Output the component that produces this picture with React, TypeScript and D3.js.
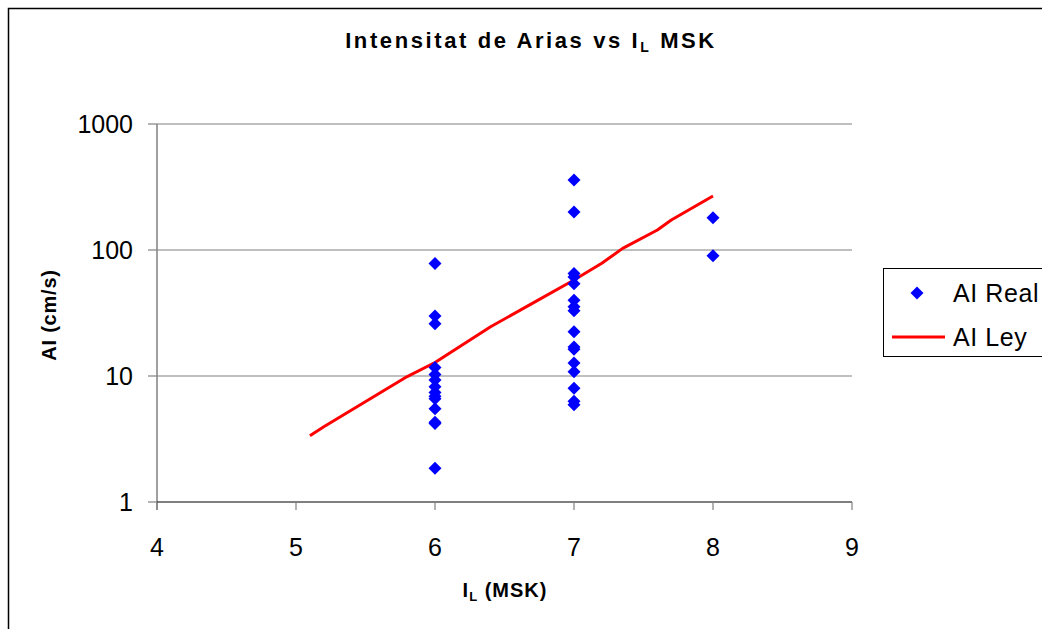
import * as d3 from "d3";

const realIL = [
  6, 6, 6, 6, 6, 6, 6, 6, 6, 6, 6, 6, 6, 6,
  7, 7, 7, 7, 7, 7, 7, 7, 7, 7, 7, 7, 7, 7, 7, 7,
  8, 8,
];
const realAI = [
  78, 30, 26, 11.7, 10.3, 9.3, 8.2, 7.4, 6.9, 6.6, 5.5, 4.3, 4.2, 1.85,
  360, 200, 65, 61, 54, 40, 35.5, 33, 22.5, 17, 16.3, 12.7, 10.8, 8, 6.3, 5.9,
  180, 90,
];

const leyIL = [5.1, 5.2, 5.8, 6.0, 6.4, 6.7, 7.0, 7.2, 7.35, 7.6, 7.7, 8.0];
const leyAI = [3.35, 3.95, 9.9, 12.8, 24.6, 37.7, 57.8, 78.4, 103, 144, 173, 268];

const xTicks = [4, 5, 6, 7, 8, 9];
const yTicks = [1, 10, 100, 1000];

const W = 1042;
const H = 629;
const FONT = "'Liberation Sans', Arial, sans-serif";

export default function App() {
  const x = d3.scaleLinear().domain([4, 9]).range([157, 852]);
  const y = d3.scaleLog().domain([1, 1000]).range([502, 124]);

  const line = d3
    .line<number>()
    .x((d) => x(d))
    .y((_, i) => y(leyAI[i]));

  const diamond = (cx: number, cy: number, r = 6.5) =>
    `M${cx},${cy - r}L${cx + r},${cy}L${cx},${cy + r}L${cx - r},${cy}Z`;

  return (
    <svg
      width={W}
      height={H}
      style={{ position: "absolute", left: 0, top: 0, background: "#fff" }}
      fontFamily={FONT}
    >
      {/* chart area border, runs off the right and bottom edges */}
      <rect x={8.5} y={8.5} width={W + 20} height={H + 20} fill="#fff" stroke="#000" strokeWidth={1.5} />

      {/* title */}
      <text x={531} y={48} textAnchor="middle" fontSize={22} fontWeight="bold" letterSpacing={2.6}>
        Intensitat de Arias vs I
        <tspan fontSize={14} dy={4}>L</tspan>
        <tspan dy={-4}> MSK</tspan>
      </text>

      {/* gridlines */}
      {yTicks.slice(1).map((t) => (
        <line key={t} x1={x(4)} x2={x(9)} y1={y(t)} y2={y(t)} stroke="#808080" strokeWidth={1.2} />
      ))}

      {/* y axis */}
      <line x1={x(4)} x2={x(4)} y1={y(1000)} y2={y(1) + 8} stroke="#808080" strokeWidth={1.5} />
      {yTicks.map((t) => (
        <g key={t}>
          <line x1={x(4) - 9} x2={x(4)} y1={y(t)} y2={y(t)} stroke="#808080" strokeWidth={1.2} />
          <text x={133} y={y(t) + 9} textAnchor="end" fontSize={25}>
            {t}
          </text>
        </g>
      ))}

      {/* x axis */}
      <line x1={x(4)} x2={x(9)} y1={y(1)} y2={y(1)} stroke="#000" strokeWidth={1.2} />
      {xTicks.map((t) => (
        <g key={t}>
          <line x1={x(t)} x2={x(t)} y1={y(1)} y2={y(1) + 8} stroke="#808080" strokeWidth={1.2} />
          <text x={x(t)} y={556} textAnchor="middle" fontSize={25}>
            {t}
          </text>
        </g>
      ))}

      {/* axis titles */}
      <text
        transform="translate(56,315) rotate(-90)"
        textAnchor="middle"
        fontSize={20}
        fontWeight="bold"
        letterSpacing={0.8}
      >
        AI (cm/s)
      </text>
      <text x={505} y={597} textAnchor="middle" fontSize={20} fontWeight="bold" letterSpacing={1}>
        I<tspan fontSize={13} dy={4}>L</tspan>
        <tspan dy={-4}> (MSK)</tspan>
      </text>

      {/* AI Ley */}
      <path d={line(leyIL) ?? ""} fill="none" stroke="#ff0000" strokeWidth={3} strokeLinejoin="round" />

      {/* AI Real */}
      {realIL.map((il, i) => (
        <path key={i} d={diamond(x(il), y(realAI[i]))} fill="#0000ff" />
      ))}

      {/* legend */}
      <rect x={883.5} y={268.5} width={200} height={88} fill="#fff" stroke="#000" strokeWidth={1} />
      <path d={diamond(917, 293)} fill="#0000ff" />
      <text x={953} y={302} fontSize={25} letterSpacing={0.6}>AI Real</text>
      <line x1={892} x2={945} y1={337} y2={337} stroke="#ff0000" strokeWidth={3} />
      <text x={953} y={346} fontSize={25} letterSpacing={0.6}>AI Ley</text>
    </svg>
  );
}
